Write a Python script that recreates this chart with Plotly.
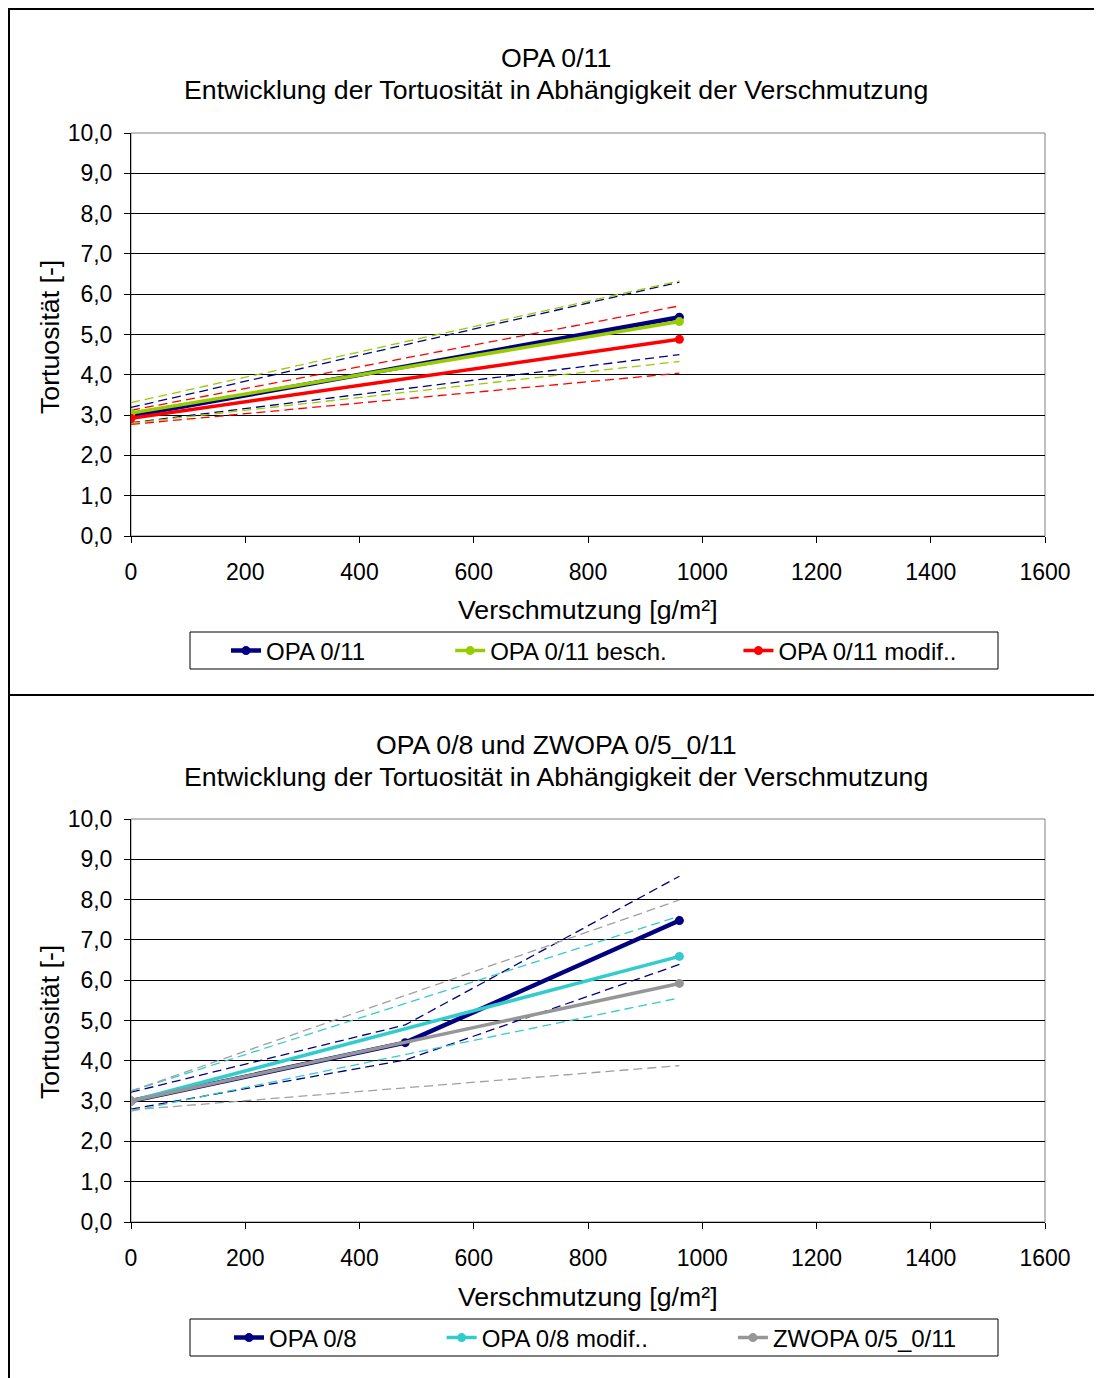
import plotly.graph_objects as go

W, H = 1102, 1378
OFF = 8  # page body margin offset
FONT = "Liberation Sans, Arial, sans-serif"

# ---------------- data: top chart (OPA 0/11) ----------------
x_top = [0, 960]
opa011 = [2.98, 5.43]
opa011_hi = [3.19, 6.30]
opa011_lo = [2.81, 4.50]
opa011_besch = [3.05, 5.32]
opa011_besch_hi = [3.31, 6.33]
opa011_besch_lo = [2.80, 4.33]
opa011_modif = [2.92, 4.88]
opa011_modif_hi = [3.12, 5.71]
opa011_modif_lo = [2.77, 4.04]

# ---------------- data: bottom chart (OPA 0/8, ZWOPA) ----------------
x_opa08 = [0, 480, 960]
opa08 = [3.00, 4.45, 7.48]
opa08_hi = [3.22, 4.89, 8.58]
opa08_lo = [2.80, 4.02, 6.39]
x_two = [0, 960]
opa08_modif = [3.00, 6.59]
opa08_modif_hi = [3.25, 7.59]
opa08_modif_lo = [2.75, 5.56]
zwopa = [3.00, 5.92]
zwopa_hi = [3.25, 7.99]
zwopa_lo = [2.78, 3.88]

x_ticks = [0, 200, 400, 600, 800, 1000, 1200, 1400, 1600]
y_ticks = [0, 1, 2, 3, 4, 5, 6, 7, 8, 9, 10]

NAVY = "#000080"
GREEN = "#99CC00"
RED = "#FF0000"
CYAN = "#33CCCC"
GRAY = "#969696"

NB = "\u00a0"

fig = go.Figure()


def dashed(x, y, color, xa, ya):
    fig.add_trace(go.Scatter(x=x, y=y, mode="lines", showlegend=False,
                             line=dict(color=color, width=1.3, dash="9px,5px"),
                             xaxis=xa, yaxis=ya, hoverinfo="skip"))


def solid(x, y, color, name, xa, ya, leg, width=3.5):
    fig.add_trace(go.Scatter(x=x, y=y, mode="lines+markers", name=name,
                             line=dict(color=color, width=width),
                             marker=dict(color=color, size=9),
                             xaxis=xa, yaxis=ya, legend=leg))


# top chart
dashed(x_top, opa011_hi, NAVY, "x", "y")
dashed(x_top, opa011_lo, NAVY, "x", "y")
dashed(x_top, opa011_besch_hi, GREEN, "x", "y")
dashed(x_top, opa011_besch_lo, GREEN, "x", "y")
dashed(x_top, opa011_modif_hi, RED, "x", "y")
dashed(x_top, opa011_modif_lo, RED, "x", "y")
solid(x_top, opa011, NAVY, "OPA 0/11" + NB * 12, "x", "y", "legend", 4.5)
solid(x_top, opa011_besch, GREEN, "OPA 0/11 besch." + NB * 10, "x", "y", "legend")
solid(x_top, opa011_modif, RED, "OPA 0/11 modif..", "x", "y", "legend")

# bottom chart
dashed(x_opa08, opa08_hi, NAVY, "x2", "y2")
dashed(x_opa08, opa08_lo, NAVY, "x2", "y2")
dashed(x_two, opa08_modif_hi, CYAN, "x2", "y2")
dashed(x_two, opa08_modif_lo, CYAN, "x2", "y2")
dashed(x_two, zwopa_hi, "#A0A0A0", "x2", "y2")
dashed(x_two, zwopa_lo, "#A0A0A0", "x2", "y2")
solid(x_opa08, opa08, NAVY, "OPA 0/8" + NB * 12, "x2", "y2", "legend2", 4.5)
solid(x_two, opa08_modif, CYAN, "OPA 0/8 modif.." + NB * 12, "x2", "y2", "legend2")
solid(x_two, zwopa, GRAY, "ZWOPA 0/5_0/11", "x2", "y2", "legend2")


def px_x(p):
    return (p - OFF) / W


def px_y(p):
    return 1 - (p - OFF) / H


xdom = [px_x(131), px_x(1045)]
ydom_top = [px_y(536), px_y(133)]
ydom_bot = [px_y(1222), px_y(819)]

xax = dict(range=[0, 1600], tickvals=x_ticks, tickformat="d", showgrid=False,
           zeroline=False, showline=True, linecolor="black", linewidth=1,
           ticks="outside", ticklen=6, tickcolor="black", tickwidth=1,
           ticklabelstandoff=9, automargin=False,
           tickfont=dict(family=FONT, size=23, color="black"), domain=xdom)
yax = dict(range=[0, 10], tickvals=y_ticks, tickformat=".1f", showgrid=True,
           gridcolor="black", gridwidth=1, zeroline=False, showline=True,
           linecolor="black", linewidth=1, ticks="outside", ticklen=6,
           tickcolor="black", tickwidth=1, ticklabelstandoff=7, automargin=False,
           tickfont=dict(family=FONT, size=23, color="black"))

fig.update_layout(
    width=W, height=H, autosize=False,
    margin=dict(l=0, r=0, t=0, b=0, pad=0),
    paper_bgcolor="white", plot_bgcolor="white",
    separators=",.",
    font=dict(family=FONT, color="black"),
    xaxis=dict(xax, anchor="y"),
    yaxis=dict(yax, domain=ydom_top, anchor="x"),
    xaxis2=dict(xax, anchor="y2"),
    yaxis2=dict(yax, domain=ydom_bot, anchor="x2"),
    legend=dict(orientation="h", x=px_x(226), xanchor="left",
                y=px_y(651), yanchor="middle", bgcolor="rgba(0,0,0,0)",
                borderwidth=0, font=dict(family=FONT, size=24, color="black")),
    legend2=dict(orientation="h", x=px_x(229), xanchor="left",
                 y=px_y(1338), yanchor="middle", bgcolor="rgba(0,0,0,0)",
                 borderwidth=0, font=dict(family=FONT, size=24, color="black")),
    showlegend=True,
)

ann = []


def text(t, x, y, size, angle=0):
    ann.append(dict(text=t, x=px_x(x), y=px_y(y), xref="paper", yref="paper",
                    showarrow=False, xanchor="center", yanchor="middle",
                    textangle=angle, font=dict(family=FONT, size=size, color="black")))


text("OPA 0/11", 556, 58, 26.7)
text("Entwicklung der Tortuosität in Abhängigkeit der Verschmutzung", 556, 90, 26.7)
text("Verschmutzung [g/m²]", 588, 610, 26.7)
text("Tortuosität [-]", 50, 337, 26.7, -90)
text("OPA 0/8 und ZWOPA 0/5_0/11", 556, 745, 26.7)
text("Entwicklung der Tortuosität in Abhängigkeit der Verschmutzung", 556, 777, 26.7)
text("Verschmutzung [g/m²]", 588, 1297, 26.7)
text("Tortuosität [-]", 50, 1022, 26.7, -90)
fig.update_layout(annotations=ann)

shapes = []
# plot area frames (gray)
for xr, yr in (("x domain", "y domain"), ("x2 domain", "y2 domain")):
    shapes.append(dict(type="rect", xref=xr, yref=yr, x0=0, x1=1, y0=0, y1=1,
                       line=dict(color="#808080", width=1), layer="below"))
# legend boxes
for y0, y1 in ((632, 669), (1319, 1356)):
    shapes.append(dict(type="rect", xref="paper", yref="paper",
                       x0=px_x(190), x1=px_x(998), y0=px_y(y1), y1=px_y(y0),
                       line=dict(color="black", width=1)))
# outer frame lines
shapes.append(dict(type="line", xref="paper", yref="paper", x0=px_x(9), x1=px_x(9),
                   y0=0, y1=px_y(9), line=dict(color="black", width=2)))
shapes.append(dict(type="line", xref="paper", yref="paper", x0=px_x(8), x1=1,
                   y0=px_y(9), y1=px_y(9), line=dict(color="black", width=2)))
shapes.append(dict(type="line", xref="paper", yref="paper", x0=px_x(8), x1=1,
                   y0=px_y(695), y1=px_y(695), line=dict(color="black", width=2)))
fig.update_layout(shapes=shapes)

fig.write_html("out.html")
